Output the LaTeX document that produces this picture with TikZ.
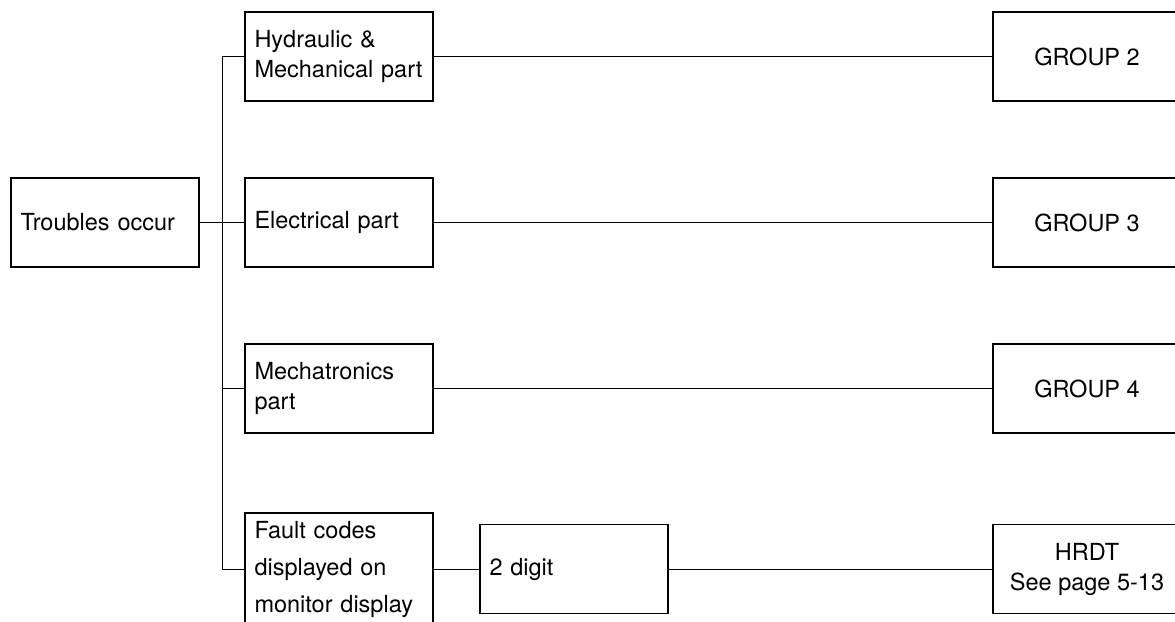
\documentclass[tikz,border=0pt]{standalone}
\usepackage{fontspec}
\setmainfont{TeX Gyre Heros}
\begin{document}
\begin{tikzpicture}[x=1pt,y=-1pt,
  font=\fontsize{23.5}{30}\selectfont,
  box/.style={draw,line width=1.2pt,minimum width=188pt,minimum height=89pt,inner sep=0pt},
  leftbox/.style={box,text width=169pt,align=left},
  rightbox/.style={box,align=center},
  link/.style={line width=0.8pt}]
  \useasboundingbox (0,0) rectangle (1175,621);
  \clip (0,0) rectangle (1175,621);
  \node[leftbox] (trouble) at (105,222.5) {Troubles occur};
  \node[leftbox] (hyd) at (339,56.5) {Hydraulic \&\\Mechanical part};
  \node[leftbox] (elec) at (339,222.5) {Electrical part};
  \node[leftbox] (mech) at (339,388.5) {Mechatronics\\part};
  \node[leftbox,minimum height=112pt,font=\fontsize{23.5}{37}\selectfont] (fault) at (339,569) {Fault codes\\displayed on\\monitor display};
  \node[leftbox] (digit) at (574,569) {2 digit};
  \node[rightbox] (grp2) at (1087,56.5) {GROUP 2};
  \node[rightbox] (grp3) at (1087,222.5) {GROUP 3};
  \node[rightbox] (grp4) at (1087,388.5) {GROUP 4};
  \node[rightbox] (hrdt) at (1087,569) {HRDT\\See page 5-13};
  \coordinate (jn) at (222,56.5);
  \draw[link] (hyd.west) -- (jn) |- (fault.west);
  \draw[link] (trouble.east) -- (elec.west);
  \draw[link] (jn |- mech.west) -- (mech.west);
  \draw[link] (hyd.east) -- (grp2.west);
  \draw[link] (elec.east) -- (grp3.west);
  \draw[link] (mech.east) -- (grp4.west);
  \draw[link] (fault.east) -- (digit.west);
  \draw[link] (digit.east) -- (hrdt.west);
\end{tikzpicture}
\end{document}
